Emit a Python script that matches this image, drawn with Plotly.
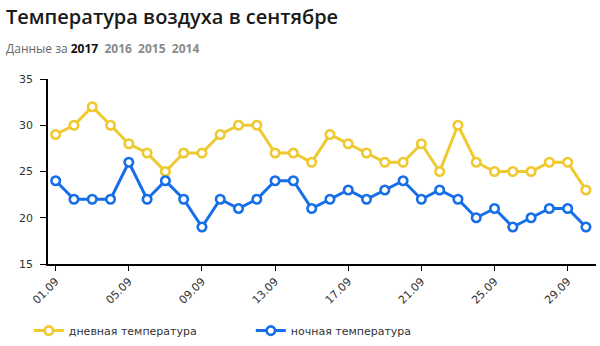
import plotly.graph_objects as go

# Days of September and daily / nightly air temperatures
days = list(range(1, 31))
day_labels = [f"{d:02d}.09" for d in days]
day_temp = [29, 30, 32, 30, 28, 27, 25, 27, 27, 29, 30, 30, 27, 27, 26,
            29, 28, 27, 26, 26, 28, 25, 30, 26, 25, 25, 25, 26, 26, 23]
night_temp = [24, 22, 22, 22, 26, 22, 24, 22, 19, 22, 21, 22, 24, 24, 21,
              22, 23, 22, 23, 24, 22, 23, 22, 20, 21, 19, 20, 21, 21, 19]
tick_days = days[::4]
tick_text = day_labels[::4]
y_ticks = [15, 20, 25, 30, 35]

YELLOW = "#EEC92F"
BLUE = "#166FE8"

fig = go.Figure()
for name, vals, color in [("дневная температура", day_temp, YELLOW),
                          ("ночная температура", night_temp, BLUE)]:
    fig.add_trace(go.Scatter(
        x=days, y=vals, name=name, mode="lines+markers",
        line=dict(color=color, width=3),
        marker=dict(symbol="circle", size=8.5, color="white",
                    line=dict(color=color, width=2.6)),
        hoverinfo="x+y",
    ))

fig.update_layout(
    width=600, height=346,
    margin=dict(l=48, r=4, t=79, b=82, autoexpand=False),
    paper_bgcolor="white", plot_bgcolor="white",
    font=dict(family="DejaVu Sans", size=11, color="#333333"),
    showlegend=True,
    legend=dict(orientation="h", x=-0.035, xanchor="left",
                y=-0.36, yanchor="middle",
                entrywidth=177, entrywidthmode="pixels",
                font=dict(family="DejaVu Sans", size=11, color="#333333"),
                itemwidth=30, tracegroupgap=0),
    xaxis=dict(range=[0.58, 30.55], tickmode="array", tickvals=tick_days,
               ticktext=tick_text, tickangle=-45, showgrid=False,
               showline=True, linecolor="#000000", linewidth=1.5,
               ticks="outside", ticklen=5, tickcolor="#000000",
               zeroline=False, tickfont=dict(size=11, color="#333333")),
    yaxis=dict(range=[15, 35], tickmode="array", tickvals=y_ticks,
               showgrid=False, showline=True, linecolor="#000000",
               linewidth=1.5, ticks="outside", ticklen=6,
               tickcolor="#000000", zeroline=False,
               ticklabelstandoff=5,
               tickfont=dict(size=11, color="#333333")),
    annotations=[
        dict(text="Температура воздуха в сентябре", xref="paper", yref="paper",
             x=-0.08, y=1.0, xanchor="left", yanchor="bottom", yshift=47,
             showarrow=False,
             font=dict(family="Open Sans", size=20, color="#1a1a1a",
                       weight=600)),
        dict(text="Данные за <b style='color:#111111'>2017</b>&nbsp; "
                  "<b style='color:#8a8a8a'>2016</b>&nbsp; "
                  "<b style='color:#8a8a8a'>2015</b>&nbsp; "
                  "<b style='color:#8a8a8a'>2014</b>",
             xref="paper", yref="paper", x=-0.08, y=1.0,
             xanchor="left", yanchor="bottom", yshift=20, showarrow=False,
             font=dict(family="Open Sans", size=12, color="#666666")),
    ],
)

fig.write_html("out.html")
